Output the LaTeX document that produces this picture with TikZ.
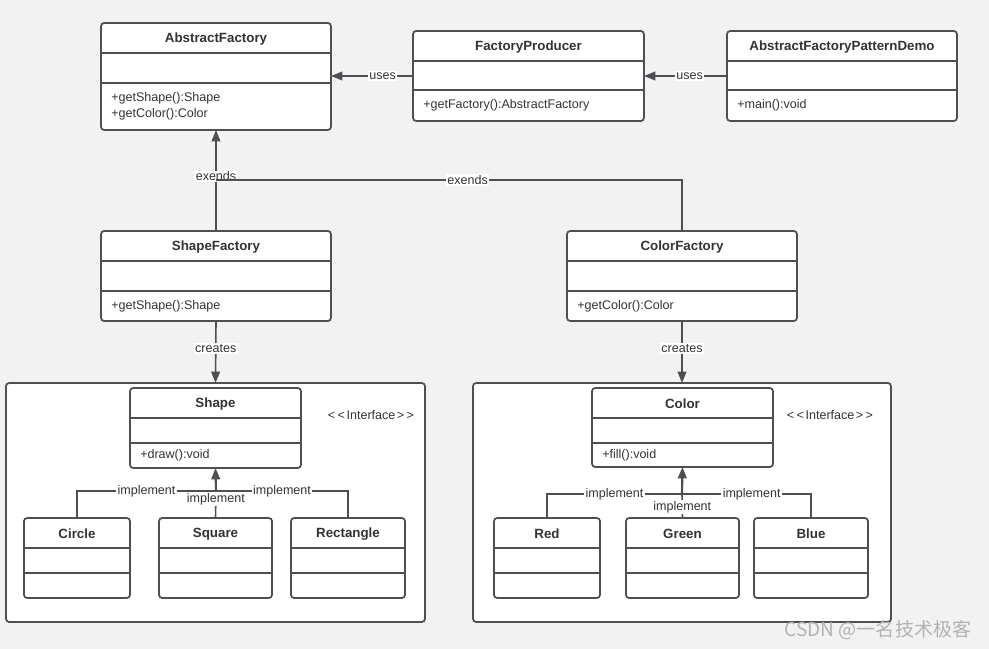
\documentclass[tikz,border=0pt]{standalone}
\usepackage{fontspec}
\setmainfont{Liberation Sans}
\newfontfamily\cjk{Noto Sans CJK SC}
\usetikzlibrary{arrows.meta,fit}
\definecolor{bg}{HTML}{F2F2F2}
\definecolor{ln}{HTML}{4D4F53}
\definecolor{tx}{HTML}{333333}
\newcommand\umlclass[9]{%
  \node[cls, fit={(#2,#3)(#4,#5)}] (#1) {};
  \draw[div] (#2,#6) -- (#4,#6);
  \draw[div] (#2,#7) -- (#4,#7);
  \node[ttl] (#1-t) at ({(#2+#4)/2},{(#3+#6)/2+1}) {#8};
  \node[meth] (#1-m) at ({#2+10},{(#7+#5)/2}) {#9};
}
\begin{document}
\begin{tikzpicture}[x=0.75pt,y=-0.75pt,
  cls/.style={draw=ln, line width=1.3pt, fill=white, rounded corners=2.4pt, inner sep=0pt, outer sep=0pt},
  div/.style={draw=ln, line width=1.3pt},
  ttl/.style={font=\bfseries\fontsize{10}{12}\selectfont, text=tx, inner sep=0pt},
  meth/.style={font=\fontsize{9.4}{12}\selectfont, text=tx, align=left, inner sep=0pt, anchor=west},
  lbl/.style={fill=white, font=\fontsize{9.4}{11}\selectfont, text=tx, inner sep=1pt},
  conn/.style={draw=ln, line width=1.2pt},
  arr/.style={conn, -{Triangle[length=8.5pt,width=6.5pt]}}]
\fill[bg] (0,0) rectangle (989,649);
\useasboundingbox (0,0) rectangle (989,649);

% top row
\umlclass{af}{101}{23}{331}{130}{53}{83}{AbstractFactory}{+getShape():Shape\\+getColor():Color}
\umlclass{fp}{413}{31}{644}{121}{61}{90}{FactoryProducer}{+getFactory():AbstractFactory}
\umlclass{dm}{727}{31}{957}{121}{61}{90}{AbstractFactoryPatternDemo}{+main():void}

% factories
\umlclass{sf}{101}{231}{331}{321}{261}{291}{ShapeFactory}{+getShape():Shape}
\umlclass{cf}{567}{231}{797}{321}{261}{291}{ColorFactory}{+getColor():Color}

% containers
\node[cls, fit={(6,383)(425,622)}] (lc) {};
\node[cls, fit={(473,383)(891,622)}] (rc) {};

% interfaces
\umlclass{sh}{130}{388}{301}{468}{418}{443}{Shape}{+draw():void}
\umlclass{co}{592}{388}{773}{467}{418}{443}{Color}{+fill():void}
\node[meth, anchor=center] (shi) at (371,415) {<\kern1.8pt<\kern1.2pt Interface\kern1.2pt>\kern1.8pt>};
\node[meth, anchor=center] (coi) at (830,415) {<\kern1.8pt<\kern1.2pt Interface\kern1.2pt>\kern1.8pt>};

% implementations
\umlclass{ci}{24}{518}{130}{598}{548}{573}{Circle}{}
\umlclass{sq}{159}{518}{272}{598}{548}{573}{Square}{}
\umlclass{re}{291}{518}{405}{598}{548}{573}{Rectangle}{}
\umlclass{rd}{494}{518}{600}{598}{548}{573}{Red}{}
\umlclass{gr}{626}{518}{739}{598}{548}{573}{Green}{}
\umlclass{bl}{754}{518}{868}{598}{548}{573}{Blue}{}

% uses
\draw[arr] (fp.west) -- node[lbl, pos=0.37] {uses} (af.east |- fp.west);
\draw[arr] (dm.west) -- node[lbl, pos=0.45] {uses} (fp.east);

% extends
\coordinate (j1) at (216,180);
\draw[arr] (sf.north) -- node[lbl, pos=0.54] {exends} (af.south);
\draw[conn] (cf.north) |- node[lbl, pos=0.73] {exends} (j1);

% creates
\draw[arr] (sf.south) -- node[lbl, pos=0.45] {creates} (lc.north);
\draw[arr] (cf.south) -- node[lbl, pos=0.45] {creates} (rc.north);

% implement (shape)
\coordinate (j2) at (216,491);
\draw[conn] (ci.north) |- node[lbl, pos=0.75] {implement} (j2);
\draw[conn] (re.north) |- node[lbl, pos=0.75] {implement} (j2);
\draw[conn] (sq.north) -- node[lbl, pos=0.7] {implement} (j2);
\draw[arr, line width=1.6pt] (j2) -- (sh.south);

% implement (color)
\coordinate (j3) at (682,494);
\draw[conn] (rd.north) |- node[lbl, pos=0.75] {implement} (j3);
\draw[conn] (bl.north) |- node[lbl, pos=0.73] {implement} (j3);
\draw[conn] (gr.north) -- node[lbl, pos=0.46] {implement} (j3);
\draw[arr, line width=1.6pt] (j3) -- (co.south);

% watermark
\node[font=\cjk\fontsize{14.3}{15}\selectfont, text=black!30, inner sep=0pt] (wm) at (878,630) {CSDN @一名技术极客};
\end{tikzpicture}
\end{document}
